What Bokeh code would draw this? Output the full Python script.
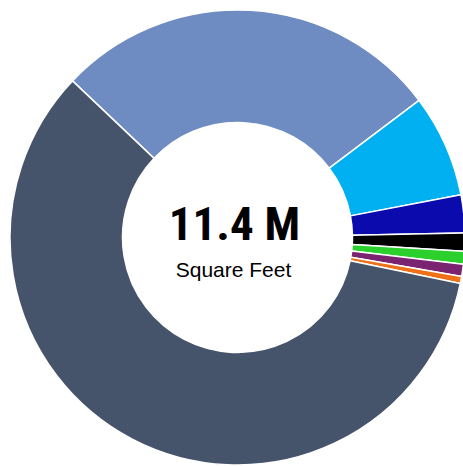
import numpy as np
from bokeh.plotting import figure
from bokeh.models import Range1d, ColumnDataSource
from bokeh.core.properties import value
from bokeh.embed import file_html
from bokeh.resources import INLINE

# Data (million square feet), in clockwise order
categories = ["Category A", "Category B", "Category C", "Category D",
              "Category E", "Category F", "Category G", "Category H"]
values = [3.15, 0.83, 0.307, 0.146, 0.104, 0.098, 0.057, 6.71]
colors = ["#6F8CC2", "#00B0F0", "#0B0BAD", "#000000",
          "#2CD02C", "#7A2370", "#EE7119", "#45546B"]
total_label = "11.4 M"
sub_label = "Square Feet"

start_deg = 136.5
vals = np.array(values, dtype=float)
ang = vals / vals.sum() * 2 * np.pi
cum = np.concatenate([[0], np.cumsum(ang)[:-1]])
starts = np.deg2rad(start_deg) - cum
ends = starts - ang

src = ColumnDataSource(dict(cat=categories, val=values, color=colors,
                            start=starts, end=ends))

p = figure(width=463, height=466, output_backend="svg", toolbar_location=None,
           x_range=Range1d(-237, 226), y_range=Range1d(-229, 237),
           x_axis_type=None, y_axis_type=None, min_border=0,
           outline_line_color=None, background_fill_color="white")
p.grid.visible = False

p.annular_wedge(x=0, y=0, inner_radius=115, outer_radius=227.5,
                start_angle="start", end_angle="end", direction="clock",
                fill_color="color", line_color="white", line_width=1.5,
                source=src)

p.text(x=[-3], y=[14], text=[total_label], text_align="center",
       text_baseline="alphabetic", text_font=value("Roboto Condensed"),
       text_font_style="bold", text_font_size="47px", text_color="#000000")
p.text(x=[-4], y=[-31.5], text=[sub_label], text_align="center",
       text_baseline="alphabetic", text_font=value("Liberation Sans"),
       text_font_size="21px", text_color="#000000")

open("out.html", "w").write(file_html(p, INLINE))
